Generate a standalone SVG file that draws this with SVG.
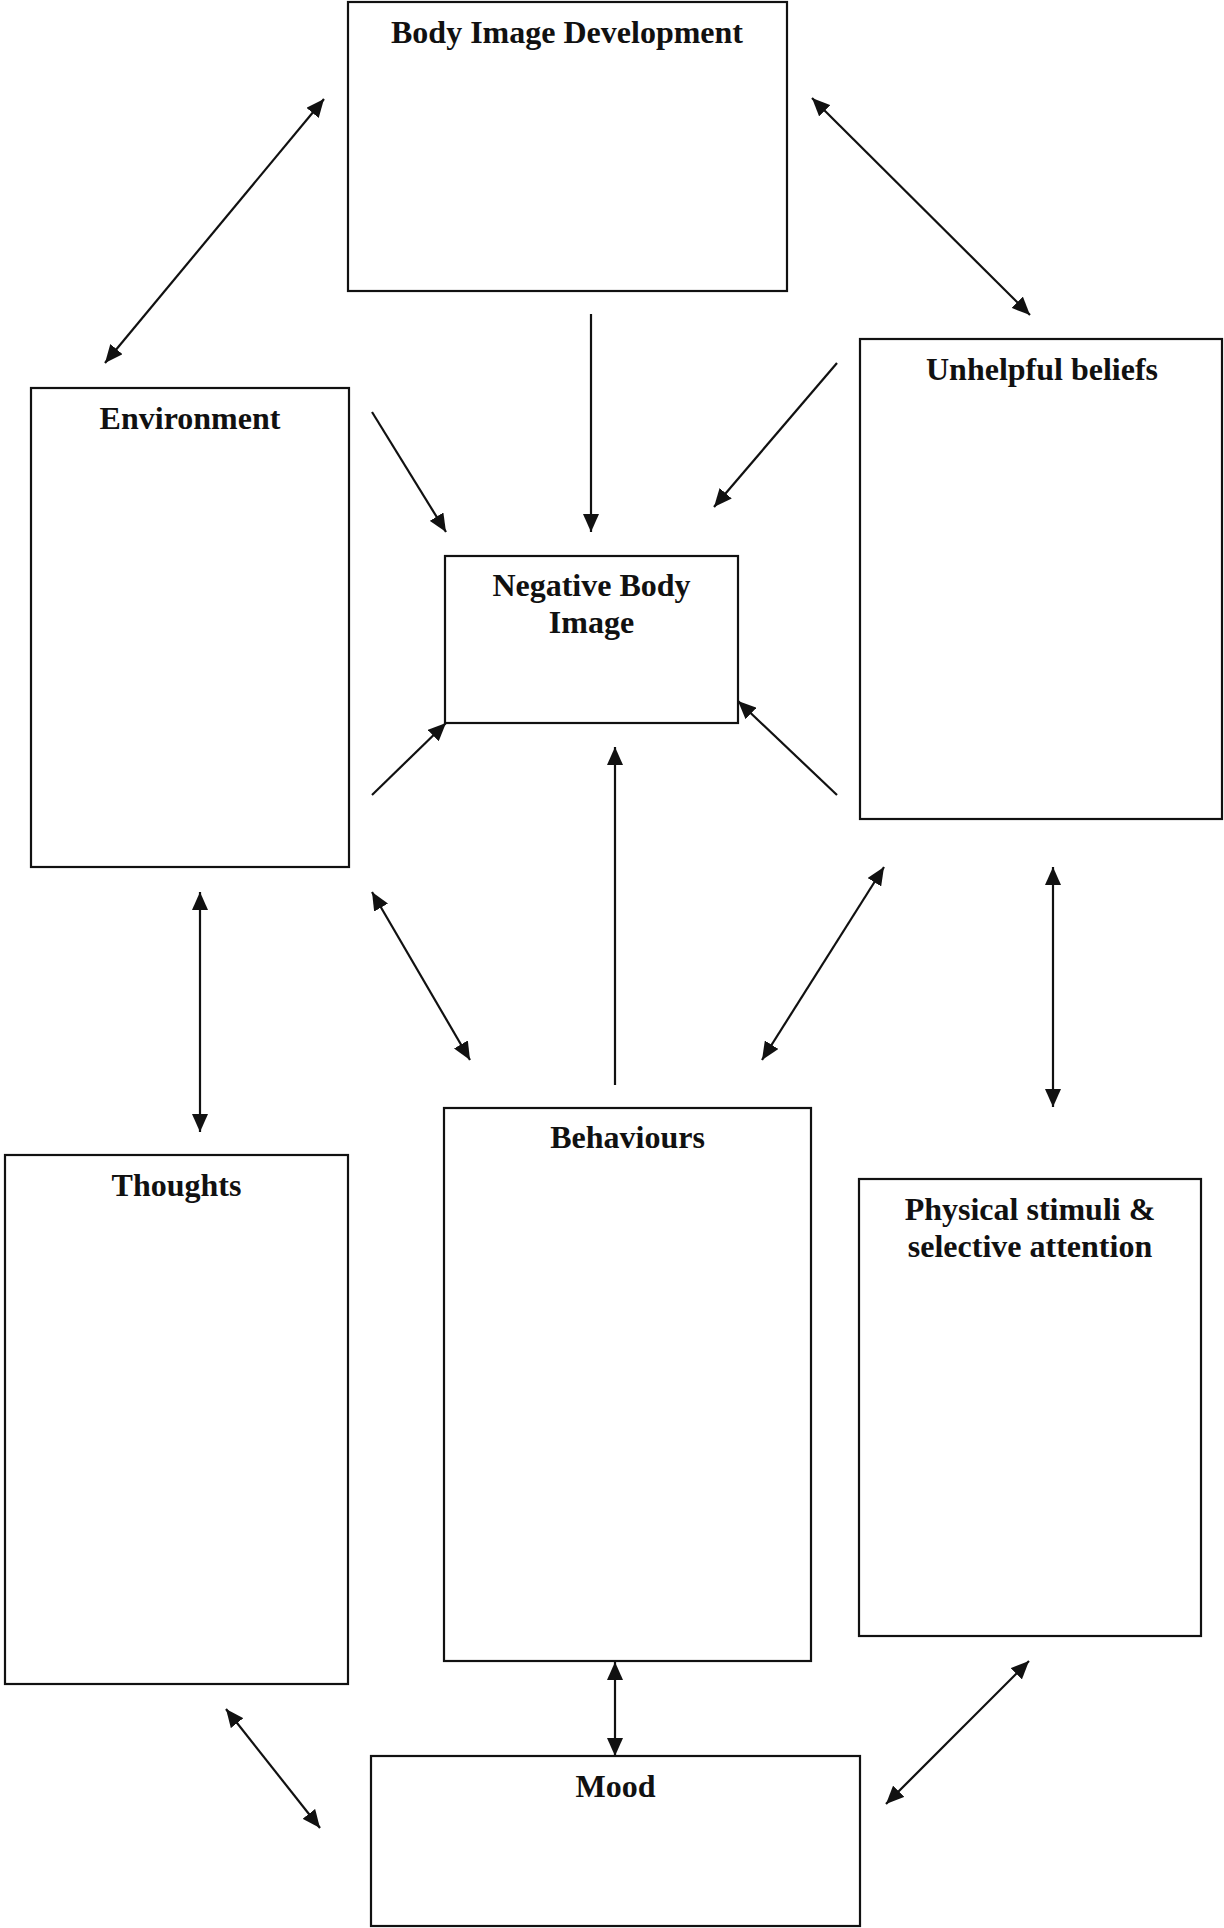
<svg xmlns="http://www.w3.org/2000/svg" width="1224" height="1928" viewBox="0 0 1224 1928">
  <style>
    .box { fill: #ffffff; stroke: #111111; stroke-width: 2.2; }
    .label { font-family: "Liberation Serif", "Times New Roman", serif; font-weight: bold; font-size: 32px; fill: #111111; text-anchor: middle; }
    .conn { stroke: #111111; stroke-width: 2.2; fill: none; }
    .one { marker-end: url(#head); }
    .two { marker-start: url(#head); marker-end: url(#head); }
  </style>
  <defs>
    <marker id="head" markerUnits="userSpaceOnUse" markerWidth="20" markerHeight="16" refX="18" refY="8" orient="auto-start-reverse">
      <path d="M0,0 L18,8 L0,16 z" fill="#111111"/>
    </marker>
  </defs>
  <rect width="1224" height="1928" fill="#ffffff"/>

  <g id="body-image-development">
    <rect class="box" x="348" y="2" width="439" height="289"/>
    <text class="label" x="567" y="43">Body Image Development</text>
  </g>

  <g id="environment">
    <rect class="box" x="31" y="388" width="318" height="479"/>
    <text class="label" x="190" y="429">Environment</text>
  </g>

  <g id="unhelpful-beliefs">
    <rect class="box" x="860" y="339" width="362" height="480"/>
    <text class="label" x="1042" y="380">Unhelpful beliefs</text>
  </g>

  <g id="negative-body-image">
    <rect class="box" x="445" y="556" width="293" height="167"/>
    <text class="label" x="591.5" y="596">Negative Body</text>
    <text class="label" x="591.5" y="633">Image</text>
  </g>

  <g id="thoughts">
    <rect class="box" x="5" y="1155" width="343" height="529"/>
    <text class="label" x="176.5" y="1196">Thoughts</text>
  </g>

  <g id="behaviours">
    <rect class="box" x="444" y="1108" width="367" height="553"/>
    <text class="label" x="627.5" y="1148">Behaviours</text>
  </g>

  <g id="physical-stimuli">
    <rect class="box" x="859" y="1179" width="342" height="457"/>
    <text class="label" x="1030" y="1220">Physical stimuli &amp;</text>
    <text class="label" x="1030" y="1257">selective attention</text>
  </g>

  <g id="mood">
    <rect class="box" x="371" y="1756" width="489" height="170"/>
    <text class="label" x="615.5" y="1797">Mood</text>
  </g>

  <g id="connectors">
    <line class="conn two" x1="324" y1="99" x2="105" y2="363"/>
    <line class="conn two" x1="812" y1="98" x2="1030" y2="315"/>
    <line class="conn one" x1="591" y1="314" x2="591" y2="532"/>
    <line class="conn one" x1="372" y1="412" x2="446" y2="532"/>
    <line class="conn one" x1="837" y1="363" x2="714" y2="507"/>
    <line class="conn one" x1="372" y1="795" x2="446" y2="723"/>
    <line class="conn one" x1="837" y1="795" x2="738" y2="701"/>
    <line class="conn one" x1="615" y1="1085" x2="615" y2="747"/>
    <line class="conn two" x1="200" y1="892" x2="200" y2="1132"/>
    <line class="conn two" x1="372" y1="892" x2="470" y2="1060"/>
    <line class="conn two" x1="884" y1="867" x2="762" y2="1060"/>
    <line class="conn two" x1="1053" y1="867" x2="1053" y2="1107"/>
    <line class="conn two" x1="615" y1="1662" x2="615" y2="1756"/>
    <line class="conn two" x1="226" y1="1709" x2="320" y2="1828"/>
    <line class="conn two" x1="1029" y1="1661" x2="886" y2="1804"/>
  </g>
</svg>
